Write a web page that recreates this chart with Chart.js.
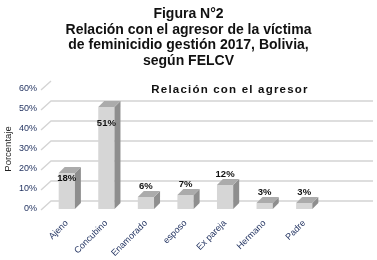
<!DOCTYPE html>
<html>
<head>
<meta charset="utf-8">
<script src="https://cdn.jsdelivr.net/npm/chart.js@4.4.1/dist/chart.umd.min.js"></script>
<style>
body { margin: 0; background: #fff; }
#wrap { position: relative; width: 377px; height: 260px; overflow: hidden; }
#fig { position: absolute; left: 0; top: 0; width: 377px; padding-top: 6px; text-align: center;
       font: bold 14px/15.5px "Liberation Sans", Arial, sans-serif; color: #111; }
#inner { position: absolute; left: 129px; top: 83px; width: 202px; text-align: center; letter-spacing: 1.2px;
         font: bold 11.5px/13px "Liberation Sans", Arial, sans-serif; color: #111; z-index: 2; }
canvas { position: absolute; left: 0; top: 0; }
</style>
</head>
<body>
<div id="wrap">
  <canvas id="chart" width="377" height="260"></canvas>
  <div id="fig">Figura N°2<br>Relación con el agresor de la víctima<br>de feminicidio gestión 2017, Bolivia,<br>según FELCV</div>
  <div id="inner">Relación con el agresor</div>
</div>
<script>
const categories = ["Ajeno", "Concubino", "Enamorado", "esposo", "Ex pareja", "Hermano", "Padre"];
const percentages = [18, 51, 6, 7, 12, 3, 3];
const yMax = 60;
const yStep = 10;

// 3d look: bar depth and back wall offset
const dx = 6, dy = 6;

const bar3d = {
    id: "bar3d",
    beforeDatasetsDraw(chart) {
        const ctx = chart.ctx;
        const y = chart.scales.y;
        const a = chart.chartArea;
        ctx.save();
        ctx.strokeStyle = "#d4d4d4";
        ctx.lineWidth = 1.4;
        y.ticks.forEach(t => {
            const py = y.getPixelForValue(t.value);
            ctx.beginPath();
            ctx.moveTo(a.left - 6, py + 1);
            ctx.lineTo(a.left + 4, py - 8);
            if (t.value < yMax) ctx.lineTo(chart.width - 4, py - 8);
            ctx.stroke();
        });
        ctx.restore();
    },
    afterDatasetsDraw(chart) {
        const ctx = chart.ctx;
        const y = chart.scales.y;
        const meta = chart.getDatasetMeta(0);
        ctx.save();
        meta.data.forEach((bar, i) => {
            const p = bar.getProps(["x", "y", "base", "width"], true);
            const l = p.x - p.width / 2, r = p.x + p.width / 2;
            // side face
            ctx.fillStyle = "#8e8e8e";
            ctx.beginPath();
            ctx.moveTo(r, p.y);
            ctx.lineTo(r + dx, p.y - dy);
            ctx.lineTo(r + dx, p.base - dy);
            ctx.lineTo(r, p.base);
            ctx.closePath();
            ctx.fill();
            // top face
            ctx.fillStyle = "#ababab";
            ctx.beginPath();
            ctx.moveTo(l, p.y);
            ctx.lineTo(l + dx, p.y - dy);
            ctx.lineTo(r + dx, p.y - dy);
            ctx.lineTo(r, p.y);
            ctx.closePath();
            ctx.fill();
            // value label
            const v = percentages[i];
            const ly = v >= 15 ? y.getPixelForValue(v * 0.84) : p.y - 11;
            ctx.font = "bold 9.5px 'Liberation Sans', Arial, sans-serif";
            ctx.fillStyle = "#111";
            ctx.textAlign = "center";
            ctx.textBaseline = "middle";
            ctx.fillText(v + "%", p.x, ly);
        });
        ctx.restore();
    }
};

new Chart(document.getElementById("chart"), {
    type: "bar",
    data: {
        labels: categories,
        datasets: [{
            data: percentages,
            backgroundColor: "#d6d6d6",
            borderWidth: 0,
            categoryPercentage: 1,
            barPercentage: 0.41
        }]
    },
    options: {
        responsive: false,
        animation: false,
        layout: { padding: { top: 89, right: 53, left: 0, bottom: 0 } },
        plugins: {
            legend: { display: false },
            tooltip: { enabled: false }
        },
        scales: {
            x: {
                grid: { display: false },
                border: { display: false },
                ticks: {
                    minRotation: 45,
                    maxRotation: 45,
                    padding: 1,
                    color: "#1e2f5e",
                    font: { family: "'Liberation Sans', Arial, sans-serif", size: 9 }
                },
                afterFit(scale) { scale.height = 51; }
            },
            y: {
                min: 0,
                max: yMax,
                grid: { display: false },
                border: { display: false },
                ticks: {
                    stepSize: yStep,
                    padding: 2,
                    color: "#1e2f5e",
                    font: { family: "'Liberation Sans', Arial, sans-serif", size: 9 },
                    callback: v => v + "%"
                },
                title: {
                    display: true,
                    text: "Porcentaje",
                    color: "#222",
                    padding: { top: 3, bottom: 0 },
                    font: { family: "'Liberation Sans', Arial, sans-serif", size: 9.5 }
                },
                afterFit(scale) { scale.width = 47; }
            }
        }
    },
    plugins: [bar3d]
});
</script>
</body>
</html>
